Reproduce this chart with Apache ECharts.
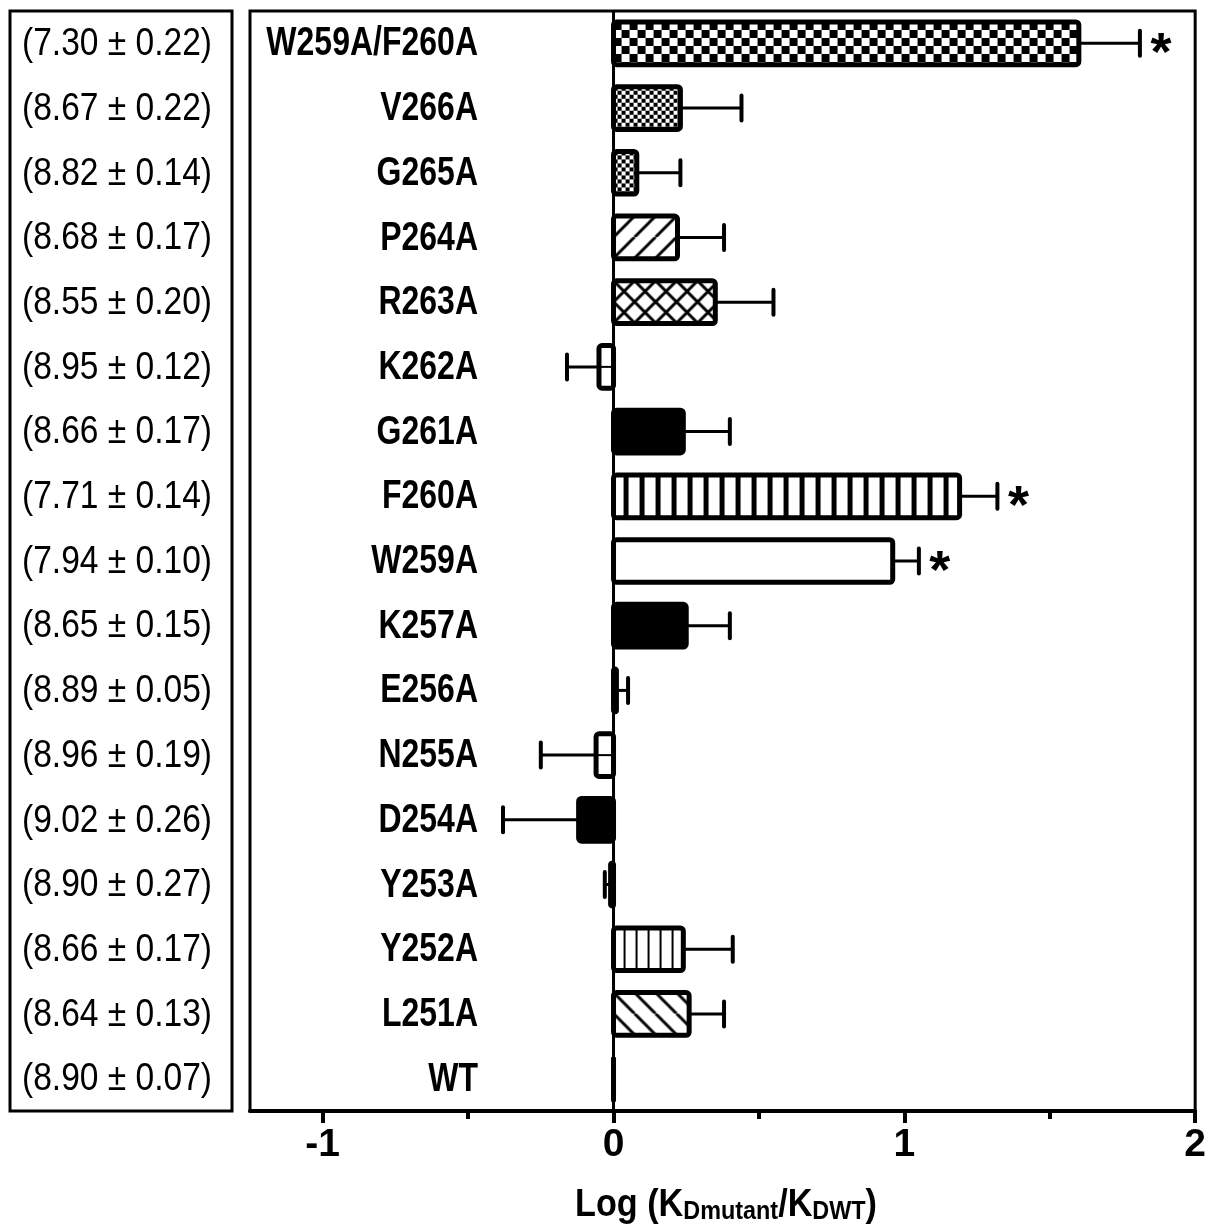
<!DOCTYPE html>
<html><head><meta charset="utf-8">
<script src="https://cdn.jsdelivr.net/npm/echarts@6/dist/echarts.min.js"></script>
<style>html,body{margin:0;padding:0;background:#fff}#c{width:1209px;height:1232px}</style>
</head><body><div id="c"></div>
<script>
// ---- data (top to bottom) ----
const categories = ['W259A/F260A','V266A','G265A','P264A','R263A','K262A','G261A','F260A','W259A','K257A','E256A','N255A','D254A','Y253A','Y252A','L251A','WT'];
const logRatio    = [1.60, 0.23, 0.08, 0.22, 0.35, -0.05, 0.24, 1.19, 0.96, 0.25, 0.01, -0.06, -0.12, -0.01, 0.24, 0.26, 0.00];
const logRatioErr = [0.21, 0.21, 0.15, 0.16, 0.20,  0.11, 0.16, 0.13, 0.09, 0.15, 0.04,  0.19,  0.26,  0.02, 0.17, 0.12, 0.00];
const pKd    = [7.30, 8.67, 8.82, 8.68, 8.55, 8.95, 8.66, 7.71, 7.94, 8.65, 8.89, 8.96, 9.02, 8.90, 8.66, 8.64, 8.90];
const pKdErr = [0.22, 0.22, 0.14, 0.17, 0.20, 0.12, 0.17, 0.14, 0.10, 0.15, 0.05, 0.19, 0.26, 0.27, 0.17, 0.13, 0.07];
const significant = [true,false,false,false,false,false,false,true,true,false,false,false,false,false,false,false,false];
const xTickValues = [-1, 0, 1, 2];
const xMinorTickValues = [-0.5, 0.5, 1.5];

// ---- styles ----
const barPattern = {
  'W259A/F260A':'checkerL','V266A':'checkerS','G265A':'checkerS','P264A':'diagF','R263A':'cross',
  'K262A':'hmid','G261A':'solid','F260A':'vstripeW','W259A':'white','K257A':'solid','E256A':'solid',
  'N255A':'hmid','D254A':'solid','Y253A':'solid','Y252A':'vstripeN','L251A':'diagB','WT':'solid'
};
const FONT = "'Liberation Sans', Arial, sans-serif";

function canvasOf(w, h, draw) {
  const c = document.createElement('canvas'); c.width = w; c.height = h;
  const g = c.getContext('2d'); g.fillStyle = '#fff'; g.fillRect(0, 0, w, h);
  g.fillStyle = '#000'; g.strokeStyle = '#000'; draw(g); return {image: c, repeat: 'repeat'};
}
const patterns = {
  checkerL: canvasOf(16, 16, g => { g.fillRect(0,0,8,8); g.fillRect(8,8,8,8); }),
  checkerS: canvasOf(8, 8, g => { g.fillRect(0,0,4,4); g.fillRect(4,4,4,4); }),
  diagF: canvasOf(21, 21, g => { g.lineWidth = 3; [-21,0,21].forEach(k => { g.beginPath(); g.moveTo(k,21); g.lineTo(k+21,0); g.stroke(); }); }),
  diagB: canvasOf(21, 21, g => { g.lineWidth = 3; [-21,0,21].forEach(k => { g.beginPath(); g.moveTo(k,0); g.lineTo(k+21,21); g.stroke(); }); }),
  cross: canvasOf(21, 21, g => { g.lineWidth = 3; [-21,0,21].forEach(k => { g.beginPath(); g.moveTo(k,21); g.lineTo(k+21,0); g.moveTo(k,0); g.lineTo(k+21,21); g.stroke(); }); }),
  vstripeW: canvasOf(16, 4, g => { g.fillRect(10,0,5,4); }),
  vstripeN: canvasOf(12, 4, g => { g.fillRect(10,0,2,4); }),
  solid: '#000', white: '#fff', hmid: '#fff'
};

const seriesData = categories.map((c, i) => [i, logRatio[i], logRatioErr[i]]);

const chart = echarts.init(document.getElementById('c'), null, {renderer: 'canvas'});
chart.setOption({
  animation: false,
  backgroundColor: '#fff',
  grid: {left: 250, right: 12, top: 11, height: 1100, show: true, borderColor: '#000', borderWidth: 3, backgroundColor: 'transparent'},
  xAxis: [{
    type: 'value', min: -1.25, max: 2, gridIndex: 0, position: 'bottom',
    axisLine: {show: true, onZero: false, lineStyle: {color: '#000', width: 4}},
    axisTick: {show: true, customValues: xTickValues, length: 12, lineStyle: {color: '#000', width: 4}},
    axisLabel: {show: true, customValues: xTickValues, color: '#000', fontFamily: FONT, fontWeight: 'bold', fontSize: 39, margin: 15},
    splitLine: {show: false}
  }, {
    type: 'value', min: -1.25, max: 2, gridIndex: 0, position: 'bottom',
    axisLine: {show: false},
    axisTick: {show: true, customValues: xMinorTickValues, length: 8, lineStyle: {color: '#000', width: 4}},
    axisLabel: {show: false}, splitLine: {show: false}
  }],
  yAxis: {
    type: 'category', data: categories, inverse: true,
    axisLine: {show: false}, axisTick: {show: false}, axisLabel: {show: false}, splitLine: {show: false}
  },
  graphic: [
    {type: 'rect', shape: {x: 10, y: 11, width: 222, height: 1100}, style: {fill: 'none', stroke: '#000', lineWidth: 3}, z: 10},
    {type: 'text', x: 726, y: 1205, scaleX: 0.9, z: 10,
      style: {
        text: '{a|Log (K}{s|Dmutant}{a|/K}{s|DWT}{a|)}',
        align: 'center', verticalAlign: 'middle', fill: '#000',
        rich: {
          a: {fontFamily: FONT, fontWeight: 'bold', fontSize: 38, lineHeight: 40, verticalAlign: 'bottom', fill: '#000'},
          s: {fontFamily: FONT, fontWeight: 'bold', fontSize: 26, lineHeight: 12, verticalAlign: 'bottom', fill: '#000'}
        }
      }}
  ],
  series: [
    {
      // labels, left-box values and zero line
      type: 'custom', name: 'labels', xAxisIndex: 0, yAxisIndex: 0, clip: false, silent: true, z: 1,
      data: seriesData, encode: {x: 1, y: 0},
      renderItem: function (params, api) {
        const i = api.value(0);
        const cs = params.coordSys;
        const p = api.coord([0, i]);
        const children = [
          {type: 'text', x: cs.x + 228, y: p[1] + 1, scaleX: 0.8,
            style: {text: categories[i], align: 'right', verticalAlign: 'middle', fill: '#000',
              font: 'bold 40px ' + FONT}},
          {type: 'text', x: 117, y: p[1] + 1, scaleX: 0.86,
            style: {text: '(' + pKd[i].toFixed(2) + ' \u00b1 ' + pKdErr[i].toFixed(2) + ')', align: 'center', verticalAlign: 'middle', fill: '#000',
              font: '39px ' + FONT}}
        ];
        if (params.dataIndex === 0) {
          children.push({type: 'line', shape: {x1: p[0], y1: cs.y, x2: p[0], y2: cs.y + cs.height}, style: {stroke: '#000', lineWidth: 3}});
        }
        return {type: 'group', children: children};
      }
    },
    {
      // bars
      type: 'custom', name: 'bars', xAxisIndex: 0, yAxisIndex: 0, z: 3,
      data: seriesData, encode: {x: 1, y: 0},
      renderItem: function (params, api) {
        const i = api.value(0), v = api.value(1);
        const p0 = api.coord([0, i]), p1 = api.coord([v, i]);
        const band = api.size([0, 1])[1];
        const h = band * 0.66;
        const x = Math.min(p0[0], p1[0]), w = Math.abs(p1[0] - p0[0]);
        const y = p0[1] - h / 2;
        const kind = barPattern[categories[i]];
        const children = [{type: 'rect', x: x, y: y, shape: {x: 0, y: 0, width: w, height: h, r: 3},
          style: {fill: patterns[kind], stroke: '#000', lineWidth: 5, lineJoin: 'round'}}];
        if (kind === 'hmid') {
          children.push({type: 'line', shape: {x1: x, y1: p0[1], x2: x + w, y2: p0[1]}, style: {stroke: '#000', lineWidth: 2}});
        }
        return {type: 'group', children: children};
      }
    },
    {
      // error bars + significance stars
      type: 'custom', name: 'errors', xAxisIndex: 0, yAxisIndex: 0, z: 2, clip: false,
      data: seriesData, encode: {x: 1, y: 0},
      renderItem: function (params, api) {
        const i = api.value(0), v = api.value(1), e = api.value(2);
        const children = [];
        const dir = v < 0 ? -1 : 1;
        const a = api.coord([v, i]), b = api.coord([v + dir * e, i]);
        if (e > 0) {
          children.push({type: 'line', shape: {x1: a[0], y1: a[1], x2: b[0], y2: b[1]}, style: {stroke: '#000', lineWidth: 3}});
          children.push({type: 'line', shape: {x1: b[0], y1: b[1] - 12.5, x2: b[0], y2: b[1] + 12.5}, style: {stroke: '#000', lineWidth: 4, lineCap: 'round'}});
        }
        if (significant[i]) {
          children.push({type: 'text', x: b[0] + 21, y: b[1] + 12,
            style: {text: '*', align: 'center', verticalAlign: 'middle', fill: '#000', font: 'bold 54px ' + FONT}});
        }
        return {type: 'group', children: children};
      }
    }
  ]
});
</script></body></html>
